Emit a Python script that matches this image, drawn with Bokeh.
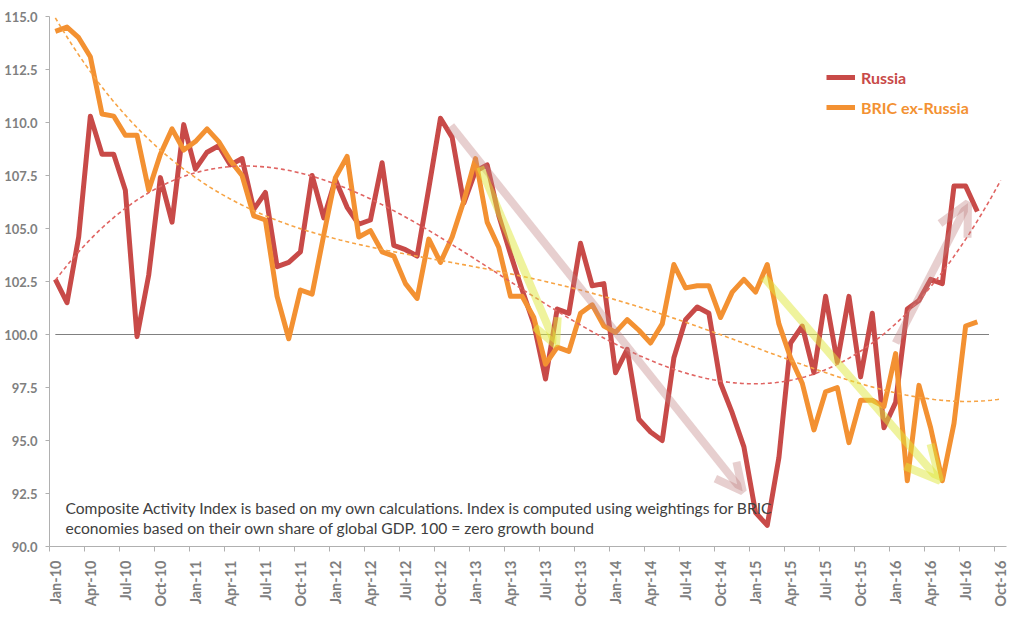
import math
import numpy as np
from bokeh.plotting import figure
from bokeh.models import (Range1d, FixedTicker, PrintfTickFormatter, Label,
                          Legend, LegendItem, Arrow, OpenHead)
from bokeh.embed import file_html
from bokeh.resources import INLINE

# ---------------- data ----------------
tick_labels = ["Jan-10", "Apr-10", "Jul-10", "Oct-10", "Jan-11", "Apr-11", "Jul-11",
               "Oct-11", "Jan-12", "Apr-12", "Jul-12", "Oct-12", "Jan-13", "Apr-13",
               "Jul-13", "Oct-13", "Jan-14", "Apr-14", "Jul-14", "Oct-14", "Jan-15",
               "Apr-15", "Jul-15", "Oct-15", "Jan-16", "Apr-16", "Jul-16", "Oct-16"]

# monthly values Jan-10 .. Aug-16
russia = [102.6, 101.5, 104.6, 110.3, 108.5, 108.5, 106.8, 99.9, 102.8, 107.4, 105.3, 109.9,
          107.8, 108.6, 108.9, 108.0, 108.3, 105.9, 106.7, 103.2, 103.4, 103.9, 107.5, 105.5,
          107.3, 106.0, 105.2, 105.4, 108.1, 104.2, 104.0, 103.7, 106.9, 110.2, 109.3, 106.2,
          107.7, 108.0, 105.6, 103.8, 102.1, 100.5, 97.9, 101.2, 101.0, 104.3, 102.3, 102.4,
          98.2, 99.3, 96.0, 95.4, 95.0, 98.9, 100.7, 101.3, 101.0, 97.7, 96.3, 94.7,
          91.6, 91.0, 94.2, 99.6, 100.4, 98.2, 101.8, 98.7, 101.8, 98.0, 101.0, 95.6,
          96.8, 101.2, 101.6, 102.6, 102.4, 107.0, 107.0, 105.8]

bric_ex_russia = [114.3, 114.5, 114.0, 113.1, 110.4, 110.3, 109.4, 109.4, 106.8, 108.5, 109.7, 108.7,
                  109.1, 109.7, 109.1, 108.2, 107.5, 105.6, 105.4, 101.8, 99.8, 102.1, 101.9, 104.7,
                  107.4, 108.4, 104.6, 104.9, 103.9, 103.7, 102.4, 101.7, 104.5, 103.4, 104.6, 106.3,
                  108.3, 105.3, 104.1, 101.8, 101.8, 100.8, 98.6, 99.4, 99.2, 101.0, 101.4, 100.4,
                  100.1, 100.7, 100.2, 99.6, 100.5, 103.3, 102.2, 102.3, 102.3, 100.8, 102.0, 102.6,
                  102.0, 103.3, 100.5, 98.9, 97.7, 95.5, 97.3, 97.5, 94.9, 96.9, 96.9, 96.6,
                  99.1, 93.1, 97.6, 95.6, 93.1, 95.8, 100.4, 100.6]

baseline = [100.0] * 81          # zero-growth bound, Jan-10 .. Sep-16
y_ticks = [90.0, 92.5, 95.0, 97.5, 100.0, 102.5, 105.0, 107.5, 110.0, 112.5, 115.0]

note_lines = ["Composite Activity Index is based on my own calculations. Index is computed using weightings for BRIC",
              "economies based on their own share of global GDP. 100 = zero growth bound"]

# ---------------- derived ----------------
n_cat = 3 * len(tick_labels) - 2           # Jan-10 .. Oct-16 categories
x = np.arange(len(russia))
tick_pos = [3 * k for k in range(len(tick_labels))]
boundaries = [3 * k - 0.5 for k in range(len(tick_labels))]

xt = np.linspace(0, n_cat - 1, 300)
trend_ru = np.polyval(np.polyfit(x, russia, 3), xt)          # polynomial trend, order 3
trend_br = np.polyval(np.polyfit(x, bric_ex_russia, 4), xt)  # polynomial trend, order 4

RED = "#c84a48"
ORANGE = "#f39132"
GREY = "#7f7f7f"
FONT = "Lato"

p = figure(frame_width=957, frame_height=530,
           x_range=Range1d(-0.5, n_cat - 0.5), y_range=Range1d(90, 115),
           output_backend="svg", toolbar_location=None,
           min_border_left=49, min_border_right=6, min_border_top=16, min_border_bottom=62)
p.xgrid.visible = False
p.ygrid.visible = False
p.outline_line_color = None
p.background_fill_color = "white"
p.border_fill_color = "white"

# y axis
p.yaxis.ticker = FixedTicker(ticks=y_ticks, minor_ticks=[])
p.yaxis.formatter = PrintfTickFormatter(format="%.1f")
p.yaxis.major_label_text_font = FONT
p.yaxis.major_label_text_font_style = "bold"
p.yaxis.major_label_text_font_size = "13px"
p.yaxis.major_label_text_color = GREY
p.yaxis.axis_line_color = "#b0b0b0"
p.yaxis.major_tick_line_color = "#b0b0b0"
p.yaxis.major_tick_in = 0
p.yaxis.major_tick_out = 4
p.yaxis.minor_tick_line_color = None
p.yaxis.major_label_standoff = 8

# x axis
p.xaxis.ticker = FixedTicker(ticks=tick_pos, minor_ticks=boundaries)
p.xaxis.major_label_overrides = {t: lab for t, lab in zip(tick_pos, tick_labels)}
p.xaxis.major_label_orientation = math.pi / 2
p.xaxis.major_label_text_font = FONT
p.xaxis.major_label_text_font_style = "bold"
p.xaxis.major_label_text_font_size = "14.5px"
p.xaxis.major_label_text_color = GREY
p.xaxis.axis_line_color = "#b0b0b0"
p.xaxis.major_tick_line_color = None
p.xaxis.major_tick_in = 0
p.xaxis.major_tick_out = 0
p.xaxis.minor_tick_line_color = "#b0b0b0"
p.xaxis.minor_tick_in = 0
p.xaxis.minor_tick_out = 5
p.xaxis.major_label_standoff = 9

# zero growth line
p.line(np.arange(len(baseline)), baseline, line_color="#808080", line_width=1.2)

# series
r_ru = p.line(x, russia, line_color=RED, line_width=5, line_join="round")
r_br = p.line(x, bric_ex_russia, line_color=ORANGE, line_width=5, line_join="round")

# trend lines
p.line(xt, trend_ru, line_color="#e06462", line_width=1.6, line_dash="4 3")
p.line(xt, trend_br, line_color="#f7a445", line_width=1.6, line_dash="4 3")

# highlight arrows
PINK = "#c08082"
YEL = "#dfe83c"
arrows = [
    (33.9, 109.85, 58.9, 92.6, PINK, 0.38, 27),
    (36.4, 107.9, 42.9, 99.5, YEL, 0.5, 25),
    (60.7, 102.7, 75.8, 93.1, YEL, 0.5, 34),
    (72.0, 99.6, 78.2, 106.2, PINK, 0.38, 31),
]
for xs, ys, xe, ye, col, alpha, size in arrows:
    p.add_layout(Arrow(x_start=xs, y_start=ys, x_end=xe, y_end=ye,
                       line_color=col, line_alpha=alpha, line_width=8,
                       end=OpenHead(size=size, line_color=col, line_alpha=alpha, line_width=8)))

# note text
for k, txt in enumerate(note_lines):
    p.add_layout(Label(x=0.87, y=91.82 - 0.94 * k, text=txt, text_font=FONT,
                       text_font_size="15.6px", text_color="#404040",
                       text_baseline="middle", text_align="left"))

# legends
for lab, rend, col, yloc in [("Russia", r_ru, RED, 459), ("BRIC ex-Russia", r_br, ORANGE, 429)]:
    leg = Legend(items=[LegendItem(label=lab, renderers=[rend])], location=(777, yloc),
                 padding=0, margin=0, border_line_color=None, background_fill_alpha=0,
                 glyph_width=29, glyph_height=20, label_standoff=6, label_height=20,
                 label_text_font=FONT, label_text_font_style="bold",
                 label_text_font_size="16px", label_text_color=col)
    p.add_layout(leg)

open("out.html", "w").write(file_html(p, INLINE))
